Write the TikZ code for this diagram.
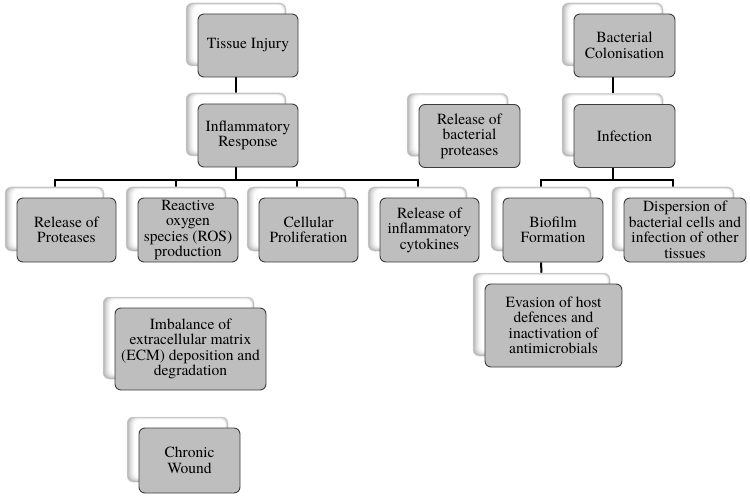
\documentclass[tikz,border=0pt]{standalone}
\usepackage{fontspec}
\setmainfont{texgyretermes}[Extension=.otf, UprightFont=*-regular, BoldFont=*-bold, ItalicFont=*-italic, BoldItalicFont=*-bolditalic]
\pgfdeclarelayer{bg}
\pgfsetlayers{bg,main}
\definecolor{boxfill}{RGB}{190,190,190}
\definecolor{boxline}{RGB}{60,60,60}
\tikzset{
  frontbox/.style={draw=boxline, line width=0.9pt, fill=boxfill, rounded corners=6pt,
    align=center, inner sep=0pt, font=\fontsize{15.5}{15.5}\selectfont},
  backbox/.style={draw=black!14, line width=0.5pt, fill=black!30, rounded corners=6pt, inner sep=0pt,
    path picture={\foreach \k/\c in {1/25,2/20,3/15,4/11,5/7,6/4,7/2,8/0}{
      \fill[black!\c, rounded corners=6pt]
        ([xshift=\k*1pt, yshift=\k*0.6pt]path picture bounding box.south west) rectangle
        ([xshift=-\k*0.35pt, yshift=-\k*0.3pt]path picture bounding box.north east);}}},
  conn/.style={line width=2pt, black}
}
\newcommand\mybox[6]{%
  \node[backbox, minimum width=#4pt, minimum height=#5pt] (#1-b) at (#2-12,#3-11) {};
  \node[frontbox, minimum width=#4pt, minimum height=#5pt] (#1) at (#2,#3) {#6};}
\begin{document}
\begin{tikzpicture}[x=1pt,y=-1pt]
\useasboundingbox (0,0) rectangle (750,500);
% level 0
\mybox{ti}{248}{45.5}{100}{63}{Tissue Injury}
\mybox{bc}{624.5}{45.5}{101}{63}{Bacterial\\Colonisation}
% level 1
\mybox{ir}{248}{135.5}{100}{63}{Inflammatory\\Response}
\mybox{bp}{469.5}{136}{101}{63}{Release of\\bacterial\\proteases}
\mybox{inf}{624.5}{136}{101}{63}{Infection}
% level 2
\mybox{rp}{66.5}{230}{99}{64}{Release of\\Proteases}
\mybox{ros}{188}{230}{100}{64}{Reactive\\oxygen\\species (ROS)\\production}
\mybox{cp}{308.5}{230}{99}{64}{Cellular\\Proliferation}
\mybox{ck}{429.5}{230}{99}{64}{Release of\\inflammatory\\cytokines}
\mybox{bf}{553}{230}{100}{64}{Biofilm\\Formation}
\mybox{dp}{685}{230}{122}{64}{Dispersion of\\bacterial cells and\\infection of other\\tissues}
% lower
\mybox{ev}{553.5}{325.5}{137}{83}{Evasion of host\\defences and\\inactivation of\\antimicrobials}
\mybox{ecm}{190.5}{349}{151}{82}{Imbalance of\\extracellular matrix\\(ECM) deposition and\\degradation}
\mybox{cw}{189.5}{460.5}{101}{65}{Chronic\\Wound}
% connectors
\coordinate (bar) at (0,180);
\begin{pgfonlayer}{bg}
\draw[conn] (ti-b.center |- ti.south) -- (ir-b.north);
\draw[conn] (bc-b.center |- bc.south) -- (inf-b.north);
\draw[conn] (ir-b.center |- ir.south) -- (ir-b.center |- bar);
\draw[conn] (rp-b.north) -- (rp-b.north |- bar) -- (ck-b.north |- bar) -- (ck-b.north);
\draw[conn] (ros-b.north) -- (ros-b.north |- bar);
\draw[conn] (cp-b.north) -- (cp-b.north |- bar);
\draw[conn] (inf-b.center |- inf.south) -- (inf-b.center |- bar);
\draw[conn] (bf-b.north) -- (bf-b.north |- bar) -- (dp-b.north |- bar) -- (dp-b.north);
\draw[conn] (bf-b.center |- bf.south) -- (ev-b.north);
\end{pgfonlayer}
\end{tikzpicture}
\end{document}
